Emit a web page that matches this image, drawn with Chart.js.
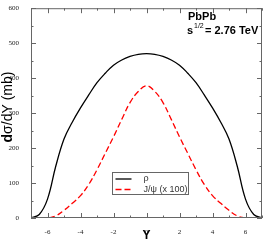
<!DOCTYPE html>
<html lang="en">
<head>
    <meta charset="UTF-8">
    <title>dsigma/dY PbPb</title>
    <script src="https://cdn.jsdelivr.net/npm/chart.js"></script>
    <style>
        body { margin: 0; background: #fff; }
        #wrap { width: 263px; height: 241px; }
    </style>
</head>
<body>
    <div id="wrap"><canvas id="rapidityChart"></canvas></div>

    <script>
        // rapidity points
        const rapidity = [-7, -6.5, -6, -5.5, -5, -4.5, -4, -3.5, -3, -2.5, -2, -1.5, -1, -0.5, 0,
                          0.5, 1, 1.5, 2, 2.5, 3, 3.5, 4, 4.5, 5, 5.5, 6, 6.5, 7];
        // rho cross section (mb)
        const rhoValues = [0, 10, 54, 148, 226, 274, 315, 352, 387, 414, 437, 452, 462, 468, 470,
                           468, 462, 452, 437, 414, 387, 352, 315, 274, 226, 148, 54, 10, 0];
        // J/psi cross section (mb, x 100)
        const jpsiValues = [0, 0, 0, 6, 22, 42, 64, 96, 138, 185, 232, 282, 330, 362, 378,
                            362, 330, 282, 232, 185, 138, 96, 64, 42, 22, 6, 0, 0, 0];
        const xTickLabels = [-6, -4, -2, 0, 2, 4, 6];
        const yTickLabels = [0, 100, 200, 300, 400, 500, 600];

        const toPoints = vals => rapidity.map((x, i) => ({ x: x, y: vals[i] }));

        // frame, inward ticks, titles, legend and annotation
        const decorPlugin = {
            id: 'decor',
            afterDraw(chart) {
                const ctx = chart.ctx;
                const a = chart.chartArea;
                const xs = chart.scales.x, ys = chart.scales.y;
                ctx.save();
                ctx.strokeStyle = '#666';
                ctx.lineWidth = 1;
                ctx.strokeRect(a.left + 0.5, a.top + 0.5, a.right - a.left - 1, a.bottom - a.top - 1);

                ctx.beginPath();
                for (let v = -7; v <= 7; v++) {
                    const len = (v % 2 === 0) ? 5 : 2.5;
                    const px = Math.round(xs.getPixelForValue(v)) + 0.5;
                    ctx.moveTo(px, a.bottom); ctx.lineTo(px, a.bottom - len);
                    ctx.moveTo(px, a.top); ctx.lineTo(px, a.top + len);
                }
                for (let v = 0; v <= 600; v += 50) {
                    const len = (v % 100 === 0) ? 5 : 2.5;
                    const py = Math.round(ys.getPixelForValue(v)) + 0.5;
                    ctx.moveTo(a.left, py); ctx.lineTo(a.left + len, py);
                    ctx.moveTo(a.right, py); ctx.lineTo(a.right - len, py);
                }
                ctx.stroke();

                // x title
                ctx.fillStyle = '#000';
                ctx.font = 'bold 12px "Liberation Sans", Arial, sans-serif';
                ctx.textAlign = 'center';
                ctx.textBaseline = 'alphabetic';
                ctx.fillText('Y', xs.getPixelForValue(0), 239);

                // y title, bold d
                ctx.save();
                ctx.translate(12, 107);
                ctx.rotate(-Math.PI / 2);
                const f1 = 'bold 14px "Liberation Sans", Arial, sans-serif';
                const f2 = '14px "Liberation Sans", Arial, sans-serif';
                ctx.font = f1; const w1 = ctx.measureText('d').width;
                ctx.font = f2; const w2 = ctx.measureText('σ/dY (mb)').width;
                ctx.textAlign = 'left';
                ctx.font = f1; ctx.fillText('d', -(w1 + w2) / 2, 0);
                ctx.font = f2; ctx.fillText('σ/dY (mb)', -(w1 + w2) / 2 + w1, 0);
                ctx.restore();

                // annotation
                ctx.textAlign = 'left';
                ctx.font = 'bold 11px "Liberation Sans", Arial, sans-serif';
                ctx.fillText('PbPb', 188, 20);
                ctx.fillText('s', 187, 34);
                ctx.fillText('= 2.76 TeV', 205, 34);
                ctx.font = '7px "Liberation Sans", Arial, sans-serif';
                ctx.fillText('1/2', 194, 28);

                // legend
                const lx = 112.5, ly = 172.5;
                ctx.fillStyle = '#fff';
                ctx.fillRect(lx, ly, 76, 22);
                ctx.strokeStyle = '#666';
                ctx.strokeRect(lx, ly, 76, 22);
                chart.data.datasets.forEach((ds, i) => {
                    const yy = ly + 6.5 + i * 10.5;
                    ctx.beginPath();
                    ctx.strokeStyle = ds.borderColor;
                    ctx.lineWidth = ds.borderWidth;
                    ctx.setLineDash(ds.borderDash || []);
                    ctx.moveTo(lx + 3, yy); ctx.lineTo(lx + 19, yy);
                    ctx.stroke();
                    ctx.setLineDash([]);
                    ctx.fillStyle = '#333';
                    ctx.font = '9px "Liberation Sans", Arial, sans-serif';
                    ctx.textBaseline = 'middle';
                    ctx.fillText(ds.label, lx + 31, yy);
                });
                ctx.restore();
            }
        };

        new Chart(document.getElementById('rapidityChart'), {
            type: 'line',
            data: {
                datasets: [{
                    label: 'ρ',
                    data: toPoints(rhoValues),
                    borderColor: '#000',
                    borderWidth: 1.3,
                    pointRadius: 0,
                    tension: 0.4,
                    fill: false
                }, {
                    label: 'J/ψ (x 100)',
                    data: toPoints(jpsiValues),
                    borderColor: '#ff0000',
                    borderWidth: 1.3,
                    borderDash: [6, 3],
                    pointRadius: 0,
                    tension: 0.4,
                    fill: false
                }]
            },
            options: {
                responsive: true,
                maintainAspectRatio: false,
                animation: false,
                layout: { padding: { top: 3, right: 1, left: 0, bottom: 0 } },
                plugins: { legend: { display: false }, tooltip: { enabled: false } },
                scales: {
                    x: {
                        type: 'linear', min: -7, max: 7,
                        grid: { display: false }, border: { display: false },
                        afterFit(scale) { scale.height = 23; },
                        afterBuildTicks(scale) {
                            scale.ticks = xTickLabels.map(v => ({ value: v }));
                        },
                        ticks: {
                            autoSkip: false, maxRotation: 0, padding: 2,
                            color: '#222',
                            font: { family: '"Liberation Serif", "Times New Roman", serif', size: 7 }
                        }
                    },
                    y: {
                        min: 0, max: 600,
                        grid: { display: false }, border: { display: false },
                        afterFit(scale) { scale.width = 31; },
                        afterBuildTicks(scale) {
                            scale.ticks = yTickLabels.map(v => ({ value: v }));
                        },
                        ticks: {
                            padding: 4, color: '#222',
                            font: { family: '"Liberation Serif", "Times New Roman", serif', size: 7 }
                        }
                    }
                }
            },
            plugins: [decorPlugin]
        });
    </script>
</body>
</html>
